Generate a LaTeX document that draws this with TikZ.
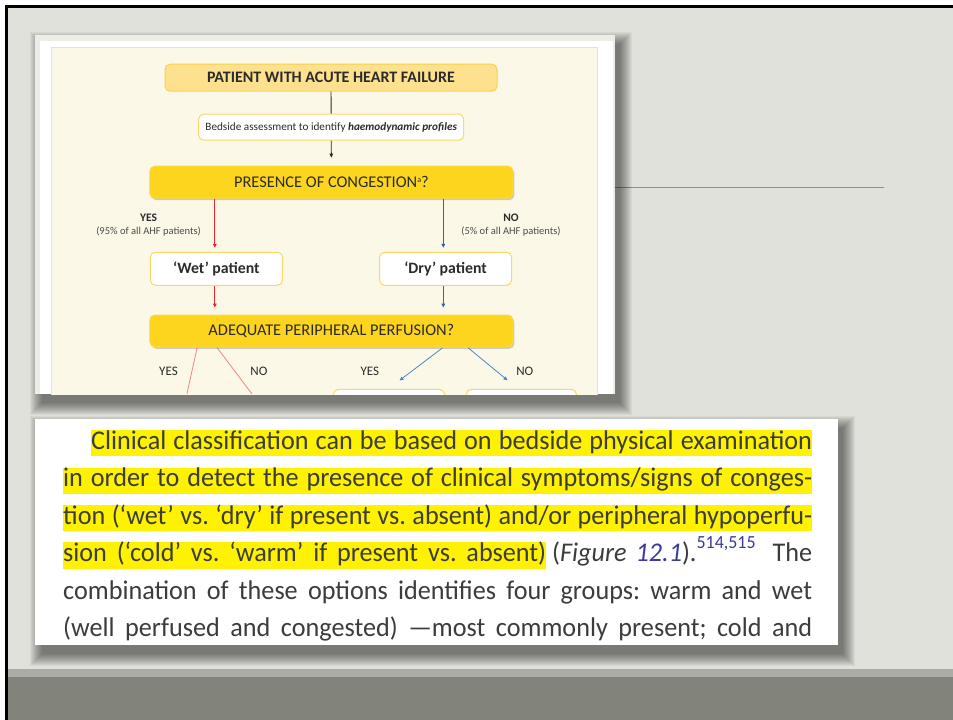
\documentclass[tikz,border=0pt]{standalone}
\usepackage{fontspec}
\setmainfont{Carlito}
\newfontfamily\bodyfont[FakeStretch=0.97]{Carlito}
\usetikzlibrary{arrows.meta,calc,shadows}

\definecolor{slidebg}{HTML}{E0E1DB}
\definecolor{bandgray}{HTML}{82837B}
\definecolor{bandstrip}{HTML}{ABACA6}
\definecolor{rulegray}{HTML}{8E8F8A}
\definecolor{framepale}{HTML}{EDEDE5}
\definecolor{cream}{HTML}{FCF8E8}
\definecolor{creamedge}{HTML}{F9E3A0}
\definecolor{topfill}{HTML}{FDE18F}
\definecolor{topedge}{HTML}{F8D24E}
\definecolor{decfill}{HTML}{FDD51E}
\definecolor{decedge}{HTML}{FCD93A}
\definecolor{boxedge}{HTML}{FAD86A}
\definecolor{fctext}{HTML}{2B2B2B}
\definecolor{redarr}{HTML}{E8262B}
\definecolor{redsoft}{HTML}{EF8585}
\definecolor{bluearr}{HTML}{2B6CA8}
\definecolor{bluesoft}{HTML}{4A88C0}
\definecolor{txtgray}{HTML}{3C3C3C}
\definecolor{hlyellow}{HTML}{FFF200}
\definecolor{refblue}{HTML}{3A3A9E}

\frenchspacing

% highlighter band behind a run of text
\newcommand{\hlstrut}{\rule[-7pt]{0pt}{26pt}}
\newcommand{\hlrun}[1]{{\setlength{\fboxsep}{0pt}\colorbox{hlyellow}{\hlstrut#1}}}

% soft drop shadow built from stacked translucent rectangles
\newcommand{\softshadow}[4]{%
  \foreach \k in {0,...,12}{%
    \fill[black,opacity=0.045] ({#1-\k+7},{#2-\k+9}) rectangle ({#3+\k+5},{#4+\k+9});}}

\begin{document}
\begin{tikzpicture}[x=1pt,y=-1pt,
  box/.style={draw=boxedge, line width=1pt, rounded corners=5pt, inner sep=0pt,
    align=center, text=fctext},
  topbox/.style={box, draw=topedge, fill=topfill, minimum width=332pt, minimum height=27pt,
    font=\fontsize{16}{18}\selectfont\bfseries},
  whitebox/.style={box, fill=white},
  decision/.style={box, draw=decedge, fill=decfill, minimum width=363pt, minimum height=32pt,
    font=\fontsize{16.4}{18}\selectfont,
    drop shadow={shadow xshift=1.5pt, shadow yshift=-2pt, opacity=0.18, fill=black}},
  patient/.style={whitebox, minimum width=132pt, minimum height=33pt,
    font=\fontsize{15.8}{17}\selectfont\bfseries},
  branch/.style={text=fctext, font=\fontsize{11.5}{12}\selectfont\bfseries, inner sep=0pt},
  share/.style={text=fctext!85, font=\fontsize{10.5}{12}\selectfont, inner sep=0pt},
  choice/.style={text=fctext, font=\fontsize{13}{14}\selectfont, inner sep=0pt},
  tipsmall/.style={-{Triangle[length=4pt,width=3.6pt]}},
  darkarrow/.style={draw=fctext, line width=0.9pt},
  redline/.style={draw=redarr, line width=1pt},
  blueline/.style={draw=bluearr, line width=1pt},
  panel/.style={anchor=base west, inner sep=0pt, text=txtgray,
    font=\bodyfont\fontsize{27}{30}\selectfont}
]
\useasboundingbox (0,0) rectangle (953,720);

% slide background with its dark frame lines
\fill[white] (0,0) rectangle (953,720);
\fill[black] (4.5,5) rectangle (953,720);
\fill[slidebg] (7.5,8) rectangle (953,720);
\fill[bandstrip] (7.5,669) rectangle (953,677);
\fill[bandgray] (7.5,677) rectangle (953,720);
\draw[rulegray, line width=1.2pt] (615,187.3) -- (884,187.3);

% shadows under the two pasted panels
\softshadow{35}{35}{615}{394}
\softshadow{35}{419}{838}{645}

% ---------------- flowchart panel ----------------
\begin{scope}
\clip (35,35) rectangle (615,394);
\fill[framepale] (35,35) rectangle (615,394);
\fill[white] (40,41) rectangle (613,394);
\draw[creamedge, fill=cream, line width=1pt] (51,47) rectangle (597.5,420);

\node[topbox] (top) at (331,77.7) {PATIENT WITH ACUTE HEART FAILURE};
\node[whitebox, minimum width=265pt, minimum height=26pt,
  font=\fontsize{11.2}{13}\selectfont] (bed) at (331.2,127.2)
  {Bedside assessment to identify \textbf{\textit{haemodynamic profiles}}};
\node[decision] (pres) at (331.4,182.2)
  {PRESENCE OF CONGESTION\raisebox{5.5pt}{\fontsize{8}{8}\selectfont a}?};

\node[branch] (yes1) at (148.6,217.3) {YES};
\node[share] (pct1) at (148.6,231.7) {(95\% of all AHF patients)};
\node[branch] (no1) at (511,217.3) {NO};
\node[share] (pct2) at (511,231.7) {(5\% of all AHF patients)};

\node[patient] (wet) at (216.4,268.8) {‘Wet’ patient};
\node[patient] (dry) at (445.6,268.8) {‘Dry’ patient};

\node[decision, minimum height=31.7pt] (adeq) at (331.4,330.9) {ADEQUATE PERIPHERAL PERFUSION?};

\node[choice] (yes2) at (168.5,371.7) {YES};
\node[choice] (no2) at (258.9,371.7) {NO};
\node[choice] (yes3) at (369.8,371.7) {YES};
\node[choice] (no3) at (524.8,371.7) {NO};

\node[whitebox, minimum width=111pt, minimum height=30pt] (bl) at (389,404.3) {};
\node[whitebox, minimum width=110pt, minimum height=30pt] (br) at (521.4,404.3) {};

\coordinate (rl) at (186.9,394);
\coordinate (rr) at (252,394);

% connectors
\draw[darkarrow] (top.south) -- (bed.north);
\draw[darkarrow, tipsmall, shorten >=8pt] (bed.south) -- (pres.north);
\draw[redline, tipsmall, shorten >=4pt] (pres.south -| wet.north) ++(-1.6,0) -- ($(wet.north)+(-1.6,0)$);
\draw[blueline, tipsmall, shorten >=4pt] (pres.south -| dry.north) ++(-2.3,0) -- ($(dry.north)+(-2.3,0)$);
\draw[redline, tipsmall, shorten >=7pt] ($(wet.south)+(-1.6,0)$) -- ($(adeq.north -| wet.south)+(-1.6,0)$);
\draw[blueline, tipsmall, shorten >=7pt] ($(dry.south)+(-2.3,0)$) -- ($(adeq.north -| dry.south)+(-2.3,0)$);
\draw[redsoft, line width=0.8pt] ($(adeq.south)+(-134.2,0)$) -- (rl);
\draw[redsoft, line width=0.8pt] ($(adeq.south)+(-114.6,0)$) -- (rr);
\draw[bluesoft, line width=0.8pt, tipsmall, shorten >=5pt] ($(adeq.south)+(111.1,0.6)$) -- ($(bl.north)+(6.5,-5.3)$);
\draw[bluesoft, line width=0.8pt, tipsmall, shorten >=5pt] ($(adeq.south)+(136.8,0.6)$) -- ($(br.north)+(-10,-5.3)$);
\end{scope}

% ---------------- text panel ----------------
\fill[white] (35,419) rectangle (838,645);

\node[panel] (l1) at (91,449.3)
  {\hlrun{\makebox[721pt][s]{Clinical classification can be based on bedside physical examination}}};
\node[panel] (l2) at (63,486.8)
  {\hlrun{\makebox[749pt][s]{in order to detect the presence of clinical symptoms/signs of conges-}}};
\node[panel] (l3) at (63,524.3)
  {\hlrun{\makebox[749pt][s]{tion (‘wet’ vs. ‘dry’ if present vs. absent) and/or peripheral hypoperfu-}}};
\node[panel] (l4) at (63,561.8)
  {\hlrun{\makebox[483pt][s]{sion (‘cold’ vs. ‘warm’ if present vs. absent)}}%
   \makebox[266pt][s]{\hspace{6pt}(\textit{Figure}\hspace{9pt}\textcolor{refblue}{\textit{12.1}}).%
   \raisebox{13pt}{\fontsize{18.5}{18.5}\selectfont\color{refblue}514,515}\hfill The}};
\node[panel] (l5) at (63,599.3)
  {\makebox[749pt][s]{combination of these options identifies four groups: warm and wet}};
\node[panel] (l6) at (63,636.8)
  {\makebox[749pt][s]{(well perfused and congested) —most commonly present; cold and}};

\end{tikzpicture}
\end{document}
